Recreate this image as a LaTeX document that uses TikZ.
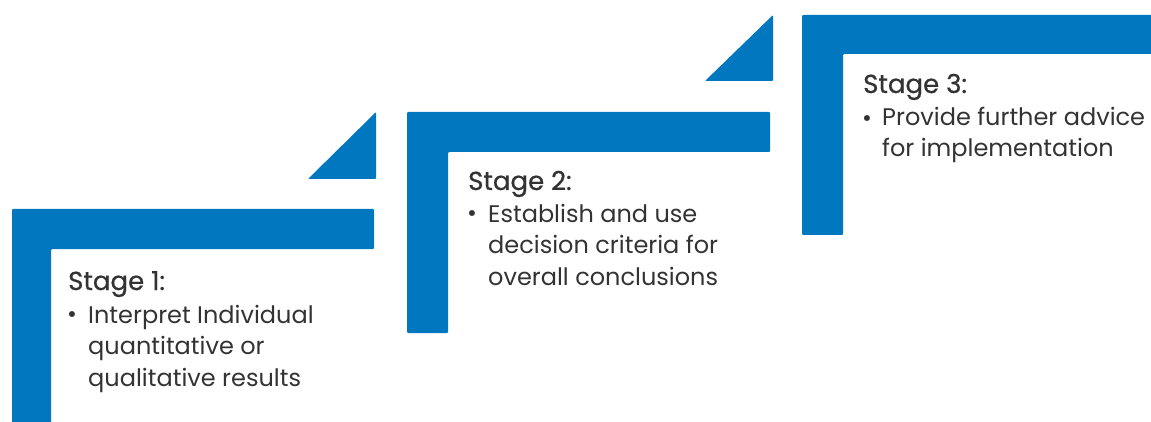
\documentclass[tikz,border=0pt]{standalone}
\usepackage{fontspec}
\setmainfont{Poppins}
\newfontfamily\stagefont{Poppins}[BoldFont=Poppins, BoldFeatures={FakeBold=0.7}]
\usepackage{xcolor}
\definecolor{stageblue}{HTML}{0077BE}
\definecolor{stagetext}{HTML}{333333}

\begin{document}
\begin{tikzpicture}[x=1pt,y=-1pt]
\tikzset{
bracket/.style={fill=stageblue, rounded corners=1pt},
head/.style={anchor=base west, inner sep=0pt, text=stagetext,
  font=\stagefont\bfseries\fontsize{26}{32}\selectfont},
item/.style={anchor=base west, inner sep=0pt, text=stagetext, align=left,
  font=\fontsize{24}{31.5}\selectfont},
}
\useasboundingbox (0,0) rectangle (1151,422);

% stage 1 (item node sits on its last line)
\fill[bracket] (12,209) -- (374,209) -- (374,249) -- (51,249) -- (51,423) -- (12,423) -- cycle;
\fill[bracket] (308,179) -- (376,112) -- (376,179) -- cycle;
\node[head] (st1) at (68,290) {Stage 1:};
\node[item] (st1dot) at (67,322) {•};
\node[item] (st1txt) at (88,386) {Interpret Individual\\quantitative or\\qualitative results};

% stage 2
\fill[bracket] (407,112) -- (770,112) -- (770,152) -- (448,152) -- (448,333) -- (407,333) -- cycle;
\fill[bracket] (705,81) -- (773,15) -- (773,81) -- cycle;
\node[head] (st2) at (468,190) {Stage 2:};
\node[item] (st2dot) at (467,222) {•};
\node[item] (st2txt) at (488,285) {Establish and use\\decision criteria for\\overall conclusions};

% stage 3
\fill[bracket] (802,15) -- (1152,15) -- (1152,54) -- (843,54) -- (843,235) -- (802,235) -- cycle;
\node[head] (st3) at (863,93) {Stage 3:};
\node[item] (st3dot) at (862,127) {•};
\node[item] (st3txt) at (882,157) {Provide further advice\\for implementation};
\end{tikzpicture}
\end{document}
